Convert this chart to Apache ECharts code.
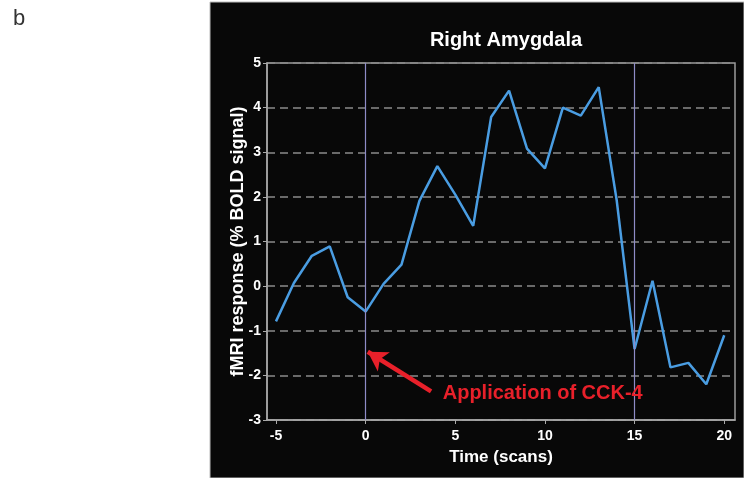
<!DOCTYPE html>
<html lang="en">
<head>
    <meta charset="UTF-8">
    <style>
        html, body { margin: 0; padding: 0; background: #fff; }
        #main { width: 744px; height: 478px; }
    </style>
    <script src="https://cdn.jsdelivr.net/npm/echarts@6/dist/echarts.min.js"></script>
    <title>Right Amygdala</title>
</head>
<body>
    <div id="main"></div>
    <script>
        // time in scans and response in % BOLD signal
        var scans = [-5, -4, -3, -2, -1, 0, 1, 2, 3, 4, 5, 6, 7, 8, 9, 10, 11, 12, 13, 14, 15, 16, 17, 18, 19, 20];
        var bold = [-0.79, 0.07, 0.68, 0.89, -0.25, -0.57, 0.05, 0.48, 1.91, 2.69, 2.05, 1.35, 3.79, 4.38, 3.08, 2.64, 4.0, 3.82, 4.46, 1.93, -1.41, 0.12, -1.82, -1.72, -2.2, -1.1];
        var xTicks = [-5, 0, 5, 10, 15, 20];
        var events = [0, 15];
        var arrowFrom = [3.65, -2.36];
        var arrowTo = [0.12, -1.47];
        var notePos = [4.3, -2.4];

        var points = [];
        for (var i = 0; i < scans.length; i++) {
            points.push([scans[i], bold[i]]);
        }

        var font = 'Liberation Sans';
        var myChart = echarts.init(document.getElementById('main'));
        var option = {
            backgroundColor: '#fff',
            animation: false,
            graphic: [{
                type: 'rect',
                shape: { x: 210, y: 2, width: 534, height: 476 },
                style: { fill: '#080808', stroke: '#bbb', lineWidth: 1 },
                z: -10
            }, {
                type: 'text',
                left: 13,
                top: 8,
                style: { text: 'b', fill: '#333', font: '22px "Liberation Sans"' }
            }],
            title: {
                text: 'Right Amygdala',
                left: 501,
                top: 25,
                textAlign: 'center',
                textStyle: { color: '#fff', fontFamily: font, fontWeight: 'bold', fontSize: 20 }
            },
            grid: {
                left: 267, right: 9, top: 63, bottom: 58,
                show: true,
                borderColor: '#9a9a9a',
                borderWidth: 1.5
            },
            xAxis: {
                type: 'value',
                min: -5.5,
                max: 20.6,
                name: 'Time (scans)',
                nameLocation: 'middle',
                nameGap: 29,
                nameMoveOverlap: false,
                nameTextStyle: { color: '#fff', fontFamily: font, fontWeight: 'bold', fontSize: 17 },
                axisLine: { onZero: false, lineStyle: { color: '#aaa', width: 1.5 } },
                axisTick: { show: true, length: 4, customValues: xTicks, lineStyle: { color: '#aaa' } },
                axisLabel: { customValues: xTicks, color: '#fff', fontFamily: font, fontWeight: 'bold', fontSize: 14, margin: 9 },
                splitLine: { show: false }
            },
            yAxis: {
                type: 'value',
                min: -3,
                max: 5,
                interval: 1,
                name: 'fMRI response (% BOLD signal)',
                nameLocation: 'middle',
                nameGap: 20,
                nameMoveOverlap: false,
                nameTextStyle: { color: '#fff', fontFamily: font, fontWeight: 'bold', fontSize: 18 },
                axisLine: { show: true, onZero: false, lineStyle: { color: '#aaa', width: 1.5 } },
                axisTick: { show: true, length: 4, lineStyle: { color: '#aaa' } },
                axisLabel: { color: '#fff', fontFamily: font, fontWeight: 'bold', fontSize: 14, margin: 6 },
                splitLine: { show: true, lineStyle: { color: '#8a8a8a', type: [8, 5], width: 1.5 } }
            },
            series: [{
                type: 'line',
                data: points,
                symbol: 'none',
                lineStyle: { color: '#4a9de2', width: 2.5 },
                markLine: {
                    silent: true,
                    symbol: 'none',
                    label: { show: false },
                    lineStyle: { color: '#8e8bc6', width: 1.2, type: 'solid' },
                    data: events.map(function (v) { return { xAxis: v }; })
                        .concat([[{
                            coord: arrowFrom,
                            symbol: 'none',
                            lineStyle: { color: '#e8202a', width: 4.5 }
                        }, {
                            coord: arrowTo,
                            symbol: 'arrow',
                            symbolSize: [17, 19]
                        }]])
                },
                markPoint: {
                    silent: true,
                    symbol: 'circle',
                    symbolSize: 0,
                    label: {
                        show: true,
                        position: 'right',
                        distance: 0,
                        formatter: 'Application of CCK-4',
                        color: '#e8202a',
                        fontFamily: font,
                        fontWeight: 'bold',
                        fontSize: 20
                    },
                    data: [{ coord: notePos }]
                }
            }]
        };
        myChart.setOption(option);
    </script>
</body>
</html>
